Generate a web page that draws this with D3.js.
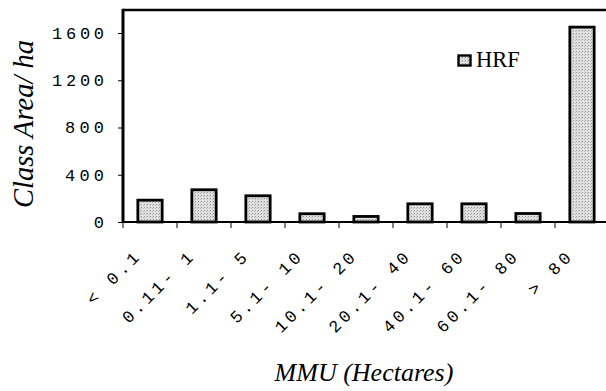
<!DOCTYPE html>
<html><head><meta charset="utf-8">
<script src="https://cdn.jsdelivr.net/npm/d3@7"></script>
<style>
html,body{margin:0;padding:0;background:#fff;}
svg{display:block;}
</style></head>
<body>
<script>
const categories = ["< 0.1", "0.11- 1", "1.1- 5", "5.1- 10", "10.1- 20", "20.1- 40", "40.1- 60", "60.1- 80", "> 80"];
const hrfValues = [185, 273, 222, 70, 47, 154, 154, 72, 1650];
const yTicks = [0, 400, 800, 1200, 1600];
const seriesName = "HRF";
const yTitle = "Class Area/ ha";
const xTitle = "MMU (Hectares)";

(function(){
const W = 606, H = 391;
const svg = d3.select("body").append("svg").attr("width", W).attr("height", H);

const defs = svg.append("defs");
const pat = defs.append("pattern").attr("id","stip").attr("patternUnits","userSpaceOnUse")
  .attr("width",3).attr("height",3);
pat.append("rect").attr("width",3).attr("height",3).attr("fill","#e2e2e2");
pat.append("rect").attr("x",0).attr("y",0).attr("width",1).attr("height",1).attr("fill","#8f8f8f");
pat.append("rect").attr("x",2).attr("y",1).attr("width",1).attr("height",1).attr("fill","#b5b5b5");

const mLeft = 123, mRight = 609, mTop = 10, mBottom = 222;

const x = d3.scaleBand().domain(categories).range([mLeft, mRight]).paddingInner(0.55).paddingOuter(0.275);
const xb = d3.scalePoint().domain(d3.range(categories.length + 1)).range([mLeft, mRight]);
const y = d3.scaleLinear().domain([0, 1795]).range([mBottom, mTop]);

// bars
svg.append("g").selectAll("rect").data(hrfValues).join("rect")
  .attr("x", (d,i) => x(categories[i]))
  .attr("y", d => y(d))
  .attr("width", x.bandwidth())
  .attr("height", d => y(0) - y(d))
  .attr("fill", "url(#stip)")
  .attr("stroke", "#000")
  .attr("stroke-width", 2.8);

// y axis
const yAxis = d3.axisLeft(y).tickValues(yTicks).tickSize(5).tickPadding(14).tickFormat(d3.format("d"));
const gy = svg.append("g").attr("transform", `translate(${mLeft},0)`).call(yAxis);
gy.select(".domain").remove();
gy.selectAll("line").attr("stroke","#000").attr("stroke-width",1);
gy.selectAll("text").attr("font-family","'Liberation Mono', monospace").attr("font-size",17)
  .attr("fill","#000")
  .each(function(){ const n = this.textContent.length; if (n > 1) d3.select(this).attr("textLength", n*13).attr("lengthAdjust","spacing"); });

// x axis ticks at band boundaries
const gx = svg.append("g");
gx.selectAll("line").data(d3.range(categories.length + 1)).join("line")
  .attr("x1", d => xb(d)).attr("x2", d => xb(d))
  .attr("y1", mBottom).attr("y2", mBottom + 6)
  .attr("stroke","#000").attr("stroke-width",1);

// x labels
svg.append("g").selectAll("text").data(categories).join("text")
  .attr("transform", d => `translate(${x(d) + x.bandwidth()/2 - 10},${259}) rotate(-45)`)
  .attr("text-anchor","end")
  .attr("font-family","'Liberation Mono', monospace").attr("font-size",17)
  .attr("textLength", d => d.length*13.2).attr("lengthAdjust","spacing")
  .attr("fill","#000")
  .text(d => d);

// frame lines
svg.append("line").attr("x1", mLeft).attr("x2", W).attr("y1", mTop).attr("y2", mTop)
  .attr("stroke","#000").attr("stroke-width",2.5);
svg.append("line").attr("x1", mLeft).attr("x2", mLeft).attr("y1", mTop - 1.2).attr("y2", mBottom + 1)
  .attr("stroke","#000").attr("stroke-width",3);
svg.append("line").attr("x1", mLeft).attr("x2", W).attr("y1", mBottom).attr("y2", mBottom)
  .attr("stroke","#000").attr("stroke-width",2.2);

// legend
svg.append("rect").attr("x",458.5).attr("y",55.5).attr("width",12).attr("height",10)
  .attr("fill","url(#stip)").attr("stroke","#000").attr("stroke-width",2.4);
svg.append("text").attr("x",476).attr("y",67).attr("font-family","'Liberation Serif', serif")
  .attr("font-size",22.5).attr("fill","#000").text(seriesName);

// titles
svg.append("text").attr("transform", "translate(33,124) rotate(-90)")
  .attr("text-anchor","middle").attr("font-family","'Liberation Serif', serif")
  .attr("font-style","italic").attr("font-size",28.5).attr("fill","#000").text(yTitle);
svg.append("text").attr("x",364).attr("y",381)
  .attr("text-anchor","middle").attr("font-family","'Liberation Serif', serif")
  .attr("font-style","italic").attr("font-size",26).attr("fill","#000").text(xTitle);
})();
</script>
</body></html>
